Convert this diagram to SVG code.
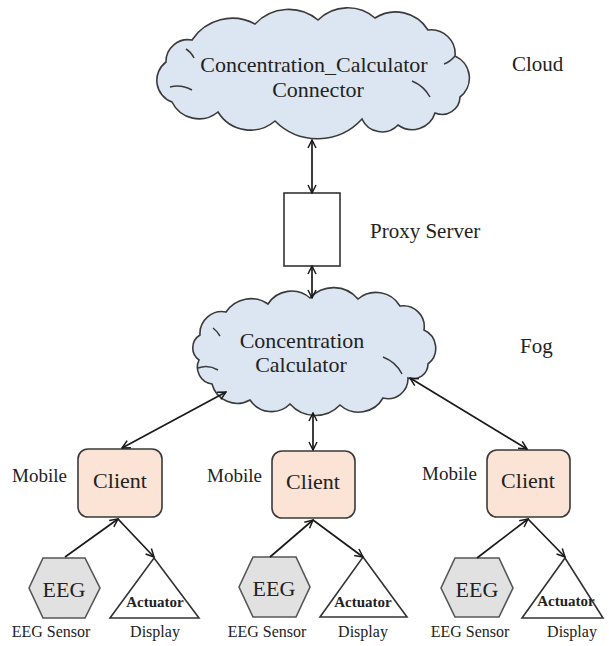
<svg xmlns="http://www.w3.org/2000/svg" width="609" height="646" viewBox="0 0 609 646">
  <style>
    text { font-family: "Liberation Serif", "Times New Roman", serif; fill: #222; }
    .cloud { fill: #dce6f2; stroke: #3a3a3a; stroke-width: 1.6; }
    .inner { fill: none; stroke: #3a3a3a; stroke-width: 1.5; }
    .box { fill: #ffffff; stroke: #333; stroke-width: 1.6; }
    .client { fill: #fbe3d6; stroke: #3a3a3a; stroke-width: 1.6; }
    .hex { fill: #e1e1e1; stroke: #555; stroke-width: 1.6; }
    .tri { fill: #ffffff; stroke: #333; stroke-width: 1.6; }
    .edge { stroke: #1a1a1a; stroke-width: 1.7; fill: none; marker-end: url(#ah); }
    .both { marker-start: url(#ah); }
    .lbl { font-size: 21px; }
    .mob { font-size: 19px; }
    .name { font-size: 22px; text-anchor: middle; }
    .act { font-size: 15px; font-weight: bold; text-anchor: middle; }
    .cap { font-size: 16px; text-anchor: middle; }
  </style>
  <defs>
    <marker id="ah" viewBox="0 0 10 10" refX="9" refY="5" markerWidth="10" markerHeight="10" markerUnits="userSpaceOnUse" orient="auto-start-reverse">
      <path d="M1,1 L9,5 L1,9" fill="none" stroke="#1a1a1a" stroke-width="1.5"/>
    </marker>
  </defs>

  <g id="cloud-connector">
    <path class="cloud" d="M166,62 A22,22 0 0 1 192,40 A48,48 0 0 1 255,24 A46,46 0 0 1 318,20 A42,42 0 0 1 375,18 A38,38 0 0 1 428,30 A24,24 0 0 1 455,56 A24,24 0 0 1 460,97 A18,18 0 0 1 435,113 A24,24 0 0 1 398,125 A22,22 0 0 1 362,119 A60,60 0 0 1 275,121 A38,38 0 0 1 218,112 A30,30 0 0 1 172,102 A23,23 0 0 1 166,62 Z"/>
    <path class="inner" d="M170,87 Q181,84 192,90 M186,49 Q191,52 194,58 M444,64 Q450,62 455,56 M412,81 Q424,86 430,97"/>
    <text class="name" x="314" y="72">Concentration_Calculator</text>
    <text class="name" x="318" y="97">Connector</text>
  </g>
  <text class="lbl" x="512" y="71">Cloud</text>

  <g id="proxy">
    <rect class="box" x="284" y="193" width="56" height="73"/>
  </g>
  <text class="lbl" x="370" y="238">Proxy Server</text>

  <g id="fog-calculator">
    <path class="cloud" d="M200,335 A22,22 0 0 1 226,312 A30,30 0 0 1 268,304 A28,28 0 0 1 310,298 A32,32 0 0 1 358,299 A28,28 0 0 1 400,306 A21,21 0 0 1 424,330 A20,20 0 0 1 428,364 A15,15 0 0 1 408,378 A20,20 0 0 1 383,398 A28,28 0 0 1 340,405 A34,34 0 0 1 290,404 A26,26 0 0 1 250,400 A26,26 0 0 1 212,384 A17,17 0 0 1 199,360 A15,15 0 0 1 200,335 Z"/>
    <path class="inner" d="M198,368 Q208,364 218,370 M383,357 Q396,362 402,374 M213,328 Q217,331 220,336"/>
    <text class="name" x="302" y="348">Concentration</text>
    <text class="name" x="301" y="372">Calculator</text>
  </g>
  <text class="lbl" x="520" y="353">Fog</text>

  <!-- mobile clients -->
  <g id="client-1">
    <rect class="client" x="78" y="449" width="84" height="68" rx="10"/>
    <text class="name" x="120" y="488">Client</text>
  </g>
  <text class="mob" x="12" y="482">Mobile</text>
  <g id="client-2">
    <rect class="client" x="272" y="451" width="83" height="67" rx="10"/>
    <text class="name" x="313" y="489">Client</text>
  </g>
  <text class="mob" x="207" y="482">Mobile</text>
  <g id="client-3">
    <rect class="client" x="487" y="450" width="83" height="67" rx="10"/>
    <text class="name" x="528" y="488">Client</text>
  </g>
  <text class="mob" x="422" y="480">Mobile</text>

  <!-- EEG sensors -->
  <g id="eeg-1">
    <polygon class="hex" points="29,588 43,558 85,558 100,588 85,618 43,618"/>
    <text class="name" x="64" y="597">EEG</text>
  </g>
  <text class="cap" x="51" y="637">EEG Sensor</text>
  <g id="eeg-2">
    <polygon class="hex" points="239,587 253,557 296,557 310,587 296,617 253,617"/>
    <text class="name" x="274" y="596">EEG</text>
  </g>
  <text class="cap" x="267" y="637">EEG Sensor</text>
  <g id="eeg-3">
    <polygon class="hex" points="441,588 455,558 499,558 513,588 499,617 455,617"/>
    <text class="name" x="477" y="597">EEG</text>
  </g>
  <text class="cap" x="470" y="637">EEG Sensor</text>

  <!-- actuator displays -->
  <g id="actuator-1">
    <polygon class="tri" points="154,558 199,618 110,618"/>
    <text class="act" x="155" y="607">Actuator</text>
  </g>
  <text class="cap" x="155" y="637">Display</text>
  <g id="actuator-2">
    <polygon class="tri" points="363,557 407,617 320,617"/>
    <text class="act" x="363" y="607">Actuator</text>
  </g>
  <text class="cap" x="363" y="637">Display</text>
  <g id="actuator-3">
    <polygon class="tri" points="565,558 603,618 522,618"/>
    <text class="act" x="566" y="606">Actuator</text>
  </g>
  <text class="cap" x="572" y="637">Display</text>

  <g id="connectors">
    <line class="edge both" x1="312" y1="140" x2="312" y2="193"/>
    <line class="edge both" x1="312" y1="266" x2="312" y2="298"/>
    <line class="edge both" x1="226" y1="392" x2="122" y2="448"/>
    <line class="edge both" x1="313" y1="413" x2="313" y2="450"/>
    <line class="edge both" x1="410" y1="378" x2="527" y2="449"/>
    <line class="edge" x1="65" y1="557" x2="118" y2="519"/>
    <line class="edge" x1="118" y1="519" x2="154" y2="557"/>
    <line class="edge" x1="270" y1="557" x2="313" y2="520"/>
    <line class="edge" x1="313" y1="520" x2="363" y2="557"/>
    <line class="edge" x1="477" y1="558" x2="528" y2="519"/>
    <line class="edge" x1="528" y1="519" x2="565" y2="557"/>
  </g>
</svg>
